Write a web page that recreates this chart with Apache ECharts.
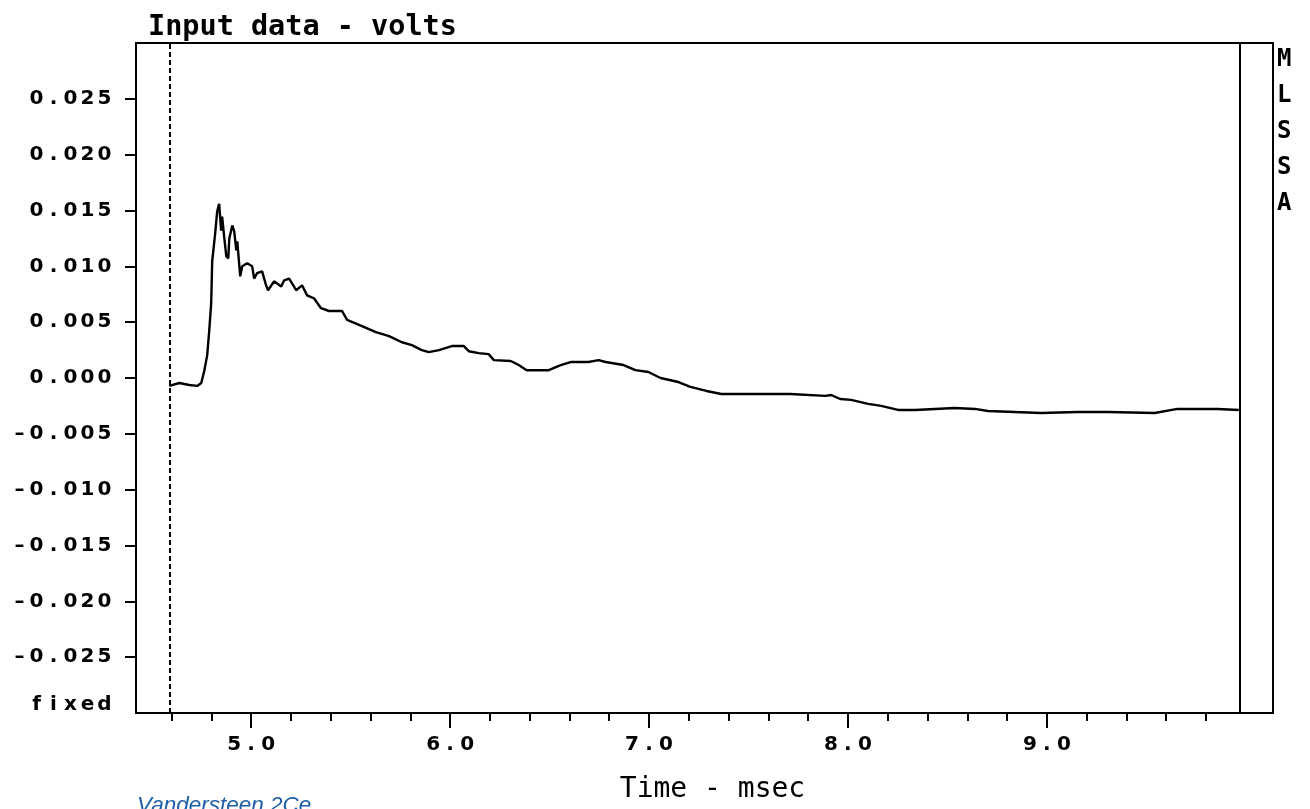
<!DOCTYPE html>
<html>
<head>
<meta charset="utf-8">
<script src="https://cdn.jsdelivr.net/npm/echarts@6/dist/echarts.min.js"></script>
<style>
  html, body { margin: 0; padding: 0; background: #ffffff; }
  #chart { width: 1310px; height: 809px; }
</style>
</head>
<body>
<div id="chart"></div>
<script>
// ---- data ----
const timesMs = [4.588, 4.639, 4.689, 4.729, 4.749, 4.764, 4.779, 4.789, 4.799, 4.804, 4.819, 4.829, 4.839, 4.849, 4.854, 4.864, 4.875, 4.885, 4.890, 4.905, 4.915, 4.925, 4.930, 4.945, 4.955, 4.980, 5.005, 5.015, 5.030, 5.055, 5.075, 5.085, 5.115, 5.151, 5.166, 5.191, 5.226, 5.256, 5.281, 5.316, 5.351, 5.391, 5.457, 5.482, 5.557, 5.627, 5.693, 5.758, 5.808, 5.858, 5.893, 5.944, 6.009, 6.069, 6.094, 6.144, 6.194, 6.220, 6.305, 6.345, 6.385, 6.496, 6.556, 6.606, 6.696, 6.747, 6.782, 6.872, 6.932, 6.997, 7.058, 7.148, 7.208, 7.289, 7.364, 7.710, 7.715, 7.886, 7.916, 7.961, 8.016, 8.102, 8.167, 8.252, 8.337, 8.538, 8.639, 8.704, 8.970, 9.156, 9.306, 9.542, 9.657, 9.858, 9.965];
const volts = [-0.00071, -0.00045, -0.00063, -0.00071, -0.00045, 0.00063, 0.00205, 0.0042, 0.0067, 0.01045, 0.01295, 0.0149, 0.0156, 0.0132, 0.01446, 0.01268, 0.0109, 0.0107, 0.0125, 0.01366, 0.0131, 0.01143, 0.01223, 0.0091, 0.0100, 0.01027, 0.0100, 0.0089, 0.0094, 0.00955, 0.0083, 0.00786, 0.00866, 0.0082, 0.00875, 0.0089, 0.00786, 0.0083, 0.0074, 0.00714, 0.00625, 0.0060, 0.0060, 0.0052, 0.00464, 0.0041, 0.00375, 0.0032, 0.00295, 0.0025, 0.00232, 0.0025, 0.00286, 0.00286, 0.0024, 0.00223, 0.00214, 0.0016, 0.00152, 0.00116, 0.0007, 0.0007, 0.00116, 0.00143, 0.00143, 0.0016, 0.00143, 0.00116, 0.0007, 0.00054, 0.0, -0.00036, -0.0008, -0.00116, -0.00143, -0.00143, -0.0016, -0.0016, -0.00152, -0.00188, -0.00196, -0.00232, -0.0025, -0.00286, -0.00286, -0.00268, -0.00277, -0.00295, -0.00313, -0.00304, -0.00304, -0.00313, -0.00277, -0.00277, -0.00286];

const xMajorTicks = [5.0, 6.0, 7.0, 8.0, 9.0];
const xMinorTicks = [4.6, 4.8, 5.2, 5.4, 5.6, 5.8, 6.2, 6.4, 6.6, 6.8, 7.2, 7.4, 7.6, 7.8, 8.2, 8.4, 8.6, 8.8, 9.2, 9.4, 9.6, 9.8];
const yTicks = [0.025, 0.020, 0.015, 0.010, 0.005, 0.000, -0.005, -0.010, -0.015, -0.020, -0.025];
const yLabelValues = [0.025, 0.020, 0.015, 0.010, 0.005, 0.000, -0.005, -0.010, -0.015, -0.020, -0.025, -0.030];
const cursorTimes = [4.59, 9.97];
const xRange = [4.421, 10.137];
const yRange = [-0.030, 0.030];
const sideLetters = ['M', 'L', 'S', 'S', 'A'];

// ---- chart ----
const chart = echarts.init(document.getElementById('chart'), null, { renderer: 'canvas' });

function cells(str) {
  return str.split('').map(ch => '{c|' + ch + '}').join('');
}
const labelFont = { fontFamily: 'DejaVu Sans', fontWeight: 'bold', fontSize: 20, color: '#000' };
const cellStyle = Object.assign({ width: 17, align: 'center', lineHeight: 20 }, labelFont);

const series = timesMs.map((t, i) => [t, volts[i]]);

const letterGraphics = sideLetters.map((ch, i) => ({
  type: 'text', left: 1277, top: 48 + i * 36,
  style: { text: ch, fontFamily: 'DejaVu Sans Mono', fontWeight: 'bold', fontSize: 24, fill: '#000' }
}));

chart.setOption({
  animation: false,
  backgroundColor: '#ffffff',
  title: {
    text: 'Input data - volts',
    left: 143, top: 8,
    textStyle: { fontFamily: 'DejaVu Sans Mono', fontWeight: 'bold', fontSize: 28.5, color: '#000' }
  },
  grid: {
    left: 136, right: 37, top: 43, bottom: 96,
    containLabel: false, outerBoundsMode: 'none',
    show: true, borderColor: '#000', borderWidth: 2, backgroundColor: 'transparent'
  },
  xAxis: [{
    type: 'value', min: xRange[0], max: xRange[1], position: 'bottom',
    axisLine: { show: true, onZero: false, lineStyle: { color: '#000', width: 2 } },
    axisTick: { show: true, length: 15, lineStyle: { color: '#000', width: 2 }, customValues: xMajorTicks },
    axisLabel: Object.assign({
      show: true, margin: 22, customValues: xMajorTicks,
      formatter: v => cells(v.toFixed(1)),
      rich: { c: cellStyle }
    }, labelFont),
    splitLine: { show: false },
    name: 'Time - msec', nameLocation: 'middle', nameGap: 63,
    nameTextStyle: { fontFamily: 'DejaVu Sans Mono', fontSize: 28, color: '#000', padding: [0, 0, 0, 16] }
  }, {
    type: 'value', min: xRange[0], max: xRange[1], position: 'bottom',
    axisLine: { show: false, onZero: false },
    axisTick: { show: true, length: 8, lineStyle: { color: '#000', width: 2 }, customValues: xMinorTicks },
    axisLabel: { show: false },
    splitLine: { show: false }
  }],
  yAxis: {
    type: 'value', min: yRange[0], max: yRange[1],
    axisLine: { show: true, onZero: false, lineStyle: { color: '#000', width: 2 } },
    axisTick: { show: true, length: 11, lineStyle: { color: '#000', width: 2 }, customValues: yTicks },
    axisLabel: Object.assign({
      show: true, margin: 23, customValues: yLabelValues,
      formatter: function (v) {
        if (v < -0.0299) return cells('fixed') + '\n{s| }';
        let val = Math.abs(v) < 1e-9 ? 0 : v;
        let s = Math.abs(val).toFixed(3);
        if (val < 0) s = '–' + s;
        return cells(s);
      },
      rich: { c: cellStyle, s: { lineHeight: 16, fontSize: 10 } }
    }, labelFont),
    splitLine: { show: false }
  },
  graphic: letterGraphics.concat([{
    type: 'text', left: 137, top: 794,
    style: { text: 'Vandersteen 2Ce', fontFamily: 'Liberation Sans', fontStyle: 'italic', fontSize: 22.5, fill: '#1f5fa8' }
  }]),
  series: [{
    type: 'line', xAxisIndex: 0, yAxisIndex: 0,
    data: series, showSymbol: false, symbol: 'none',
    lineStyle: { color: '#000', width: 2.4 },
    markLine: {
      silent: true, symbol: ['none', 'none'], label: { show: false },
      data: [
        { xAxis: cursorTimes[0], lineStyle: { color: '#000', width: 2, type: [5, 3] } },
        { xAxis: cursorTimes[1], lineStyle: { color: '#000', width: 2, type: 'solid' } }
      ]
    }
  }]
});
</script>
</body>
</html>
